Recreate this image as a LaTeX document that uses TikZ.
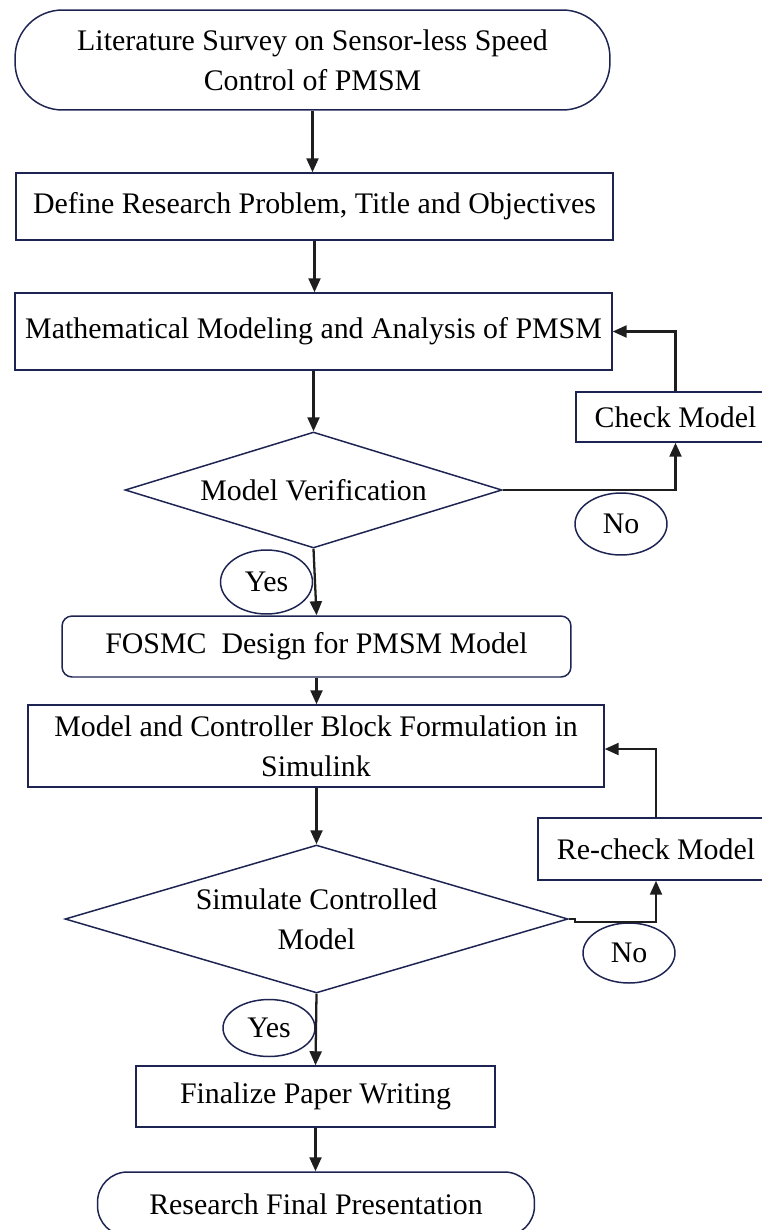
\documentclass[tikz,border=0pt]{standalone}
\usepackage{fontspec}
\setmainfont{Liberation Serif}
\usepackage{tikz}
\usetikzlibrary{arrows.meta,shapes.geometric}
\definecolor{flowNavy}{RGB}{30,36,82}
\definecolor{flowInk}{RGB}{30,30,30}

\begin{document}
\begin{tikzpicture}[x=0.02cm,y=-0.02cm,
  every node/.style={font=\fontsize{17}{22.8}\selectfont, align=center, inner sep=0pt, text=black},
  box/.style={draw=flowNavy, line width=0.85pt, rectangle},
  pill/.style={box, rounded corners=#1},
  decision/.style={draw=flowNavy, line width=0.85pt, diamond, shape aspect=#1},
  yesno/.style={draw=flowNavy, line width=0.85pt, ellipse, minimum width=1.84cm},
  flow/.style={flowInk, line width=1.3pt, -{Triangle[length=2.8mm,width=2.4mm]}}]
\useasboundingbox (0,0) rectangle (761,1230);

\node[pill=0.95cm, minimum width=11.9cm, minimum height=2cm] (survey) at (312.5,60) {Literature Survey on Sensor-less Speed\\Control of PMSM};
\node[box, minimum width=11.94cm, minimum height=1.34cm] (define) at (314.5,206.5) {Define Research Problem, Title and Objectives};
\node[box, minimum width=11.94cm, minimum height=1.54cm] (modeling) at (313.5,331.5) {Mathematical Modeling and Analysis of PMSM};
\node[decision=3.25, minimum width=7.54cm, minimum height=2.32cm] (verify) at (313.5,490) {Model Verification};
\node[box, minimum width=3.98cm, minimum height=1cm] (check) at (675.5,417) {Check Model};
\node[yesno, minimum height=1.24cm] (noA) at (621,524) {No};
\node[yesno, minimum height=1.28cm] (yesA) at (266.5,582) {Yes};
\node[pill=0.2cm, minimum width=10.18cm, minimum height=1.22cm] (fosmc) at (316.5,646.5) {FOSMC\ \ Design for PMSM Model};
\node[box, minimum width=11.52cm, minimum height=1.64cm] (simblock) at (316,746) {Model and Controller Block Formulation in\\Simulink};
\node[decision=3.4, minimum width=10.06cm, minimum height=2.96cm] (simulate) at (316.5,919) {Simulate Controlled\\Model};
\node[box, minimum width=4.72cm, minimum height=1.24cm] (recheck) at (656,849) {Re-check Model};
\node[yesno, minimum height=1.2cm] (noB) at (629,953) {No};
\node[yesno, minimum height=1.14cm] (yesB) at (269,1028) {Yes};
\node[box, minimum width=7.18cm, minimum height=1.22cm] (paper) at (315.5,1096.5) {Finalize Paper Writing};
\node[pill=0.6cm, minimum width=8.74cm, minimum height=1.28cm] (present) at (316,1204) {Research Final Presentation};

\draw[flow] (survey.south) -- (survey.south |- define.north);
\draw[flow] (define.south) -- (define.south |- modeling.north);
\draw[flow] (modeling.south) -- (verify.north);
\draw[flow] (verify.south) -- (fosmc.north);
\draw[flow] (fosmc.south) -- (fosmc.south |- simblock.north);
\draw[flow] (simulate.north |- simblock.south) -- (simulate.north);
\draw[flow] (simulate.south) -- (paper.north);
\draw[flow] (paper.south) -- (paper.south |- present.north);
\draw[flow] (verify.east) -| (check.south);
\draw[flow] (check.north) |- (modeling.east);
\draw[flow] (simulate.east) -- ++(6,0) -- ++(0,3) -| (recheck.south);
\draw[flow] (recheck.north) |- ([yshift=-0.06cm]simblock.east);
\end{tikzpicture}
\end{document}
